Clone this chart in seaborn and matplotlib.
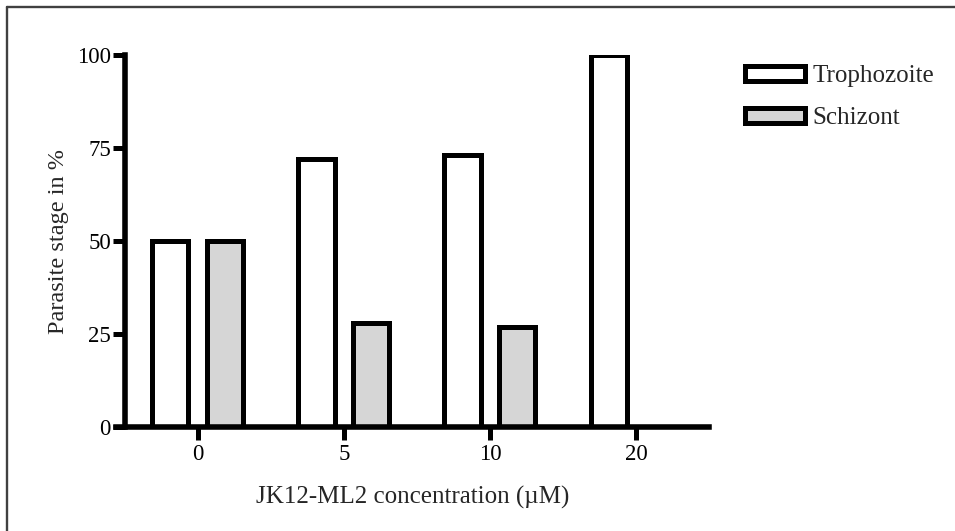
import matplotlib
matplotlib.use("Agg")
import matplotlib.pyplot as plt
from matplotlib.lines import Line2D
from matplotlib.patches import Patch
import seaborn as sns
import pandas as pd

# Parasite stage distribution after JK12-ML2 treatment
concentrations = ["0", "5", "10", "20"]
stages = ["Trophozoite", "Schizont"]
trophozoite_pct = [50, 72, 73, 100]
schizont_pct = [50, 28, 27, 0]
y_ticks = [0, 25, 50, 75, 100]

df = pd.DataFrame({
    "conc": concentrations * 2,
    "stage": [stages[0]] * len(concentrations) + [stages[1]] * len(concentrations),
    "pct": trophozoite_pct + schizont_pct,
})

sns.set_theme(style="white")
plt.rcParams["font.family"] = ["Liberation Serif", "DejaVu Serif"]

fig = plt.figure(figsize=(9.55, 5.31), dpi=100)
ax = fig.add_axes([116 / 955, 1 - 427 / 531, 593 / 955, 372 / 531])

colors = {"Trophozoite": "white", "Schizont": "#d6d6d6"}
sns.barplot(data=df, x="conc", y="pct", hue="stage", order=concentrations,
            hue_order=stages, palette=colors, edgecolor="black",
            linewidth=3.6, gap=0.34, width=0.75, saturation=1,
            legend=False, ax=ax)

ax.set_xlim(-0.56, 3.5)
ax.set_ylim(0, 100)
ax.set_yticks(y_ticks)
ax.set_yticklabels([str(v) for v in y_ticks])

for side in ("top", "right"):
    ax.spines[side].set_visible(False)
for side in ("left", "bottom"):
    ax.spines[side].set_linewidth(4.0)
    ax.spines[side].set_color("black")
    ax.spines[side].set_capstyle("projecting")
ax.spines["left"].set_position(("data", -0.50))
ax.spines["left"].set_zorder(5)
ax.spines["bottom"].set_zorder(5)

ax.tick_params(axis="both", direction="out", length=9, width=3.6,
               color="black", labelsize=16.5, labelcolor="black",
               bottom=True, left=True)
ax.tick_params(axis="y", pad=1)
ax.tick_params(axis="x", pad=3)

ax.set_xlabel("JK12-ML2 concentration (\u00b5M)", fontsize=18, labelpad=15)
ax.set_ylabel("Parasite stage in %", fontsize=17.5, labelpad=6)

handles = [Patch(facecolor=colors[s], edgecolor="black", linewidth=3.6) for s in stages]
ax.legend(handles, stages, loc="upper left", bbox_to_anchor=(745 / 955, 1 - 65 / 531),
          bbox_transform=fig.transFigure, frameon=False, handlelength=2.4,
          handleheight=0.55, handletextpad=0.3, labelspacing=0.8,
          borderpad=0, borderaxespad=0, fontsize=18)

# page frame along the top and left edges
fig.add_artist(Line2D([7 / 955, 7 / 955], [0, 1 - 7 / 531], transform=fig.transFigure,
                      color="#404040", linewidth=1.7))
fig.add_artist(Line2D([7 / 955, 1], [1 - 7 / 531, 1 - 7 / 531], transform=fig.transFigure,
                      color="#404040", linewidth=1.7))

fig.savefig("out.png", dpi=100, facecolor="white")
